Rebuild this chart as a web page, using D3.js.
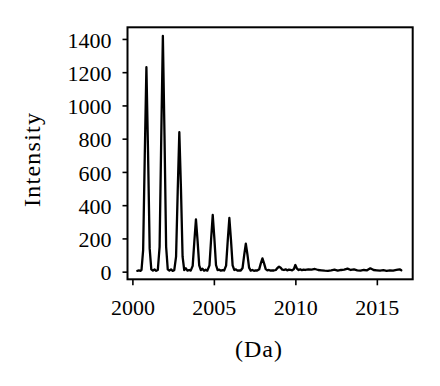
<!DOCTYPE html>
<html>
<head>
<meta charset="utf-8">
<script src="https://cdn.jsdelivr.net/npm/d3@7"></script>
<style>
  body { margin: 0; background: #fff; }
  svg text { font-family: "Liberation Serif", "DejaVu Serif", serif; fill: #000; }
</style>
</head>
<body>
<div id="chart"></div>
<script>
// tick labels
var xTicks = [2000, 2005, 2010, 2015];
var yTicks = [0, 200, 400, 600, 800, 1000, 1200, 1400];

// spectrum: [mass (Da), intensity]
var spectrum = [
	[2000.30, 5], [2000.40, 7], [2000.50, 5], [2000.56, 10], [2000.66, 130], [2000.76, 700],
	[2000.86, 1230], [2000.96, 720], [2001.06, 140], [2001.16, 14], [2001.26, 6], [2001.36, 13],
	[2001.46, 5], [2001.56, 10],
	[2001.67, 150], [2001.77, 800], [2001.87, 1418], [2001.97, 820], [2002.07, 150], [2002.17, 14],
	[2002.27, 6], [2002.37, 14], [2002.47, 5], [2002.57, 9],
	[2002.68, 90], [2002.78, 480], [2002.88, 839], [2002.98, 500], [2003.08, 90], [2003.18, 10],
	[2003.28, 20], [2003.38, 6], [2003.48, 10], [2003.58, 6],
	[2003.70, 35], [2003.80, 180], [2003.90, 315], [2004.00, 185], [2004.10, 38], [2004.20, 9],
	[2004.30, 18], [2004.40, 6], [2004.50, 12], [2004.60, 6],
	[2004.73, 38], [2004.83, 195], [2004.93, 341], [2005.03, 200], [2005.13, 40], [2005.23, 9],
	[2005.33, 12], [2005.43, 6], [2005.53, 9], [2005.63, 7],
	[2005.75, 36], [2005.85, 185], [2005.95, 323], [2006.05, 190], [2006.15, 38], [2006.25, 10],
	[2006.35, 14], [2006.45, 6], [2006.55, 8], [2006.65, 7],
	[2006.76, 22], [2006.86, 100], [2006.96, 169], [2007.06, 102], [2007.16, 24], [2007.26, 6],
	[2007.36, 10], [2007.46, 5], [2007.56, 7], [2007.66, 7],
	[2007.78, 14], [2007.88, 50], [2007.98, 80], [2008.08, 50], [2008.18, 15], [2008.28, 8],
	[2008.38, 10], [2008.48, 6], [2008.58, 8], [2008.68, 7],
	[2008.80, 10], [2008.90, 22], [2009.00, 30], [2009.10, 24], [2009.20, 12], [2009.30, 10],
	[2009.40, 14], [2009.50, 8], [2009.60, 12], [2009.70, 10], [2009.80, 8],
	[2009.90, 14], [2010.00, 40], [2010.10, 18], [2010.20, 10], [2010.30, 14], [2010.40, 9],
	[2010.50, 12], [2010.60, 10], [2010.80, 14], [2011.00, 12], [2011.20, 16], [2011.40, 10],
	[2011.60, 8], [2011.80, 6], [2012.00, 5], [2012.20, 8], [2012.40, 12], [2012.60, 6],
	[2012.80, 10], [2013.00, 12], [2013.20, 18], [2013.40, 10], [2013.60, 14], [2013.80, 8],
	[2014.00, 6], [2014.20, 10], [2014.40, 8], [2014.60, 20], [2014.80, 10], [2015.00, 8],
	[2015.20, 6], [2015.40, 9], [2015.60, 5], [2015.80, 8], [2016.00, 6], [2016.20, 10],
	[2016.40, 14], [2016.50, 8]
];

var elWidth = 440, elHeight = 386;
var frame = {left: 127.5, right: 412.7, top: 27.3, bottom: 279.3};

var svg = d3.select("#chart").append("svg")
	.attr("width", elWidth)
	.attr("height", elHeight);

var x = d3.scaleLinear().domain([1999.7, 2017.2]).range([frame.left, frame.right]);
var y = d3.scaleLinear().domain([-46, 1470]).range([frame.bottom, frame.top]);

var line = d3.line()
	.x(function(d) { return x(d[0]); })
	.y(function(d) { return y(d[1]); });

// x axis
var gx = svg.append("g")
	.attr("transform", "translate(0," + frame.bottom + ")")
	.call(d3.axisBottom(x).tickValues(xTicks).tickFormat(d3.format("d")).tickSize(6).tickSizeOuter(0));
gx.select(".domain").remove();
gx.selectAll(".tick line").attr("stroke", "#000").attr("stroke-width", 1.6);
gx.selectAll(".tick text")
	.attr("y", 36)
	.attr("dy", 0)
	.style("font-size", "22px");

// y axis
var gy = svg.append("g")
	.attr("transform", "translate(" + frame.left + ",0)")
	.call(d3.axisLeft(y).tickValues(yTicks).tickFormat(d3.format("d")).tickSize(5).tickPadding(11).tickSizeOuter(0));
gy.select(".domain").remove();
gy.selectAll(".tick line").attr("stroke", "#000").attr("stroke-width", 1.6);
gy.selectAll(".tick text")
	.attr("dy", "0.37em")
	.style("font-size", "22px");

// frame
svg.append("rect")
	.attr("x", frame.left)
	.attr("y", frame.top)
	.attr("width", frame.right - frame.left)
	.attr("height", frame.bottom - frame.top)
	.attr("fill", "none")
	.attr("stroke", "#000")
	.attr("stroke-width", 2);

svg.append("path")
	.datum(spectrum)
	.attr("fill", "none")
	.attr("stroke", "#000")
	.attr("stroke-width", 2.3)
	.attr("stroke-linejoin", "round")
	.attr("stroke-linecap", "round")
	.attr("d", line);

// axis titles
svg.append("text")
	.attr("transform", "translate(40,160) rotate(-90)")
	.attr("text-anchor", "middle")
	.attr("textLength", 94)
	.attr("lengthAdjust", "spacing")
	.style("font-size", "24px")
	.text("Intensity");

svg.append("text")
	.attr("x", 258.5)
	.attr("y", 357)
	.attr("text-anchor", "middle")
	.attr("textLength", 47)
	.attr("lengthAdjust", "spacing")
	.style("font-size", "24px")
	.text("(Da)");
</script>
</body>
</html>
